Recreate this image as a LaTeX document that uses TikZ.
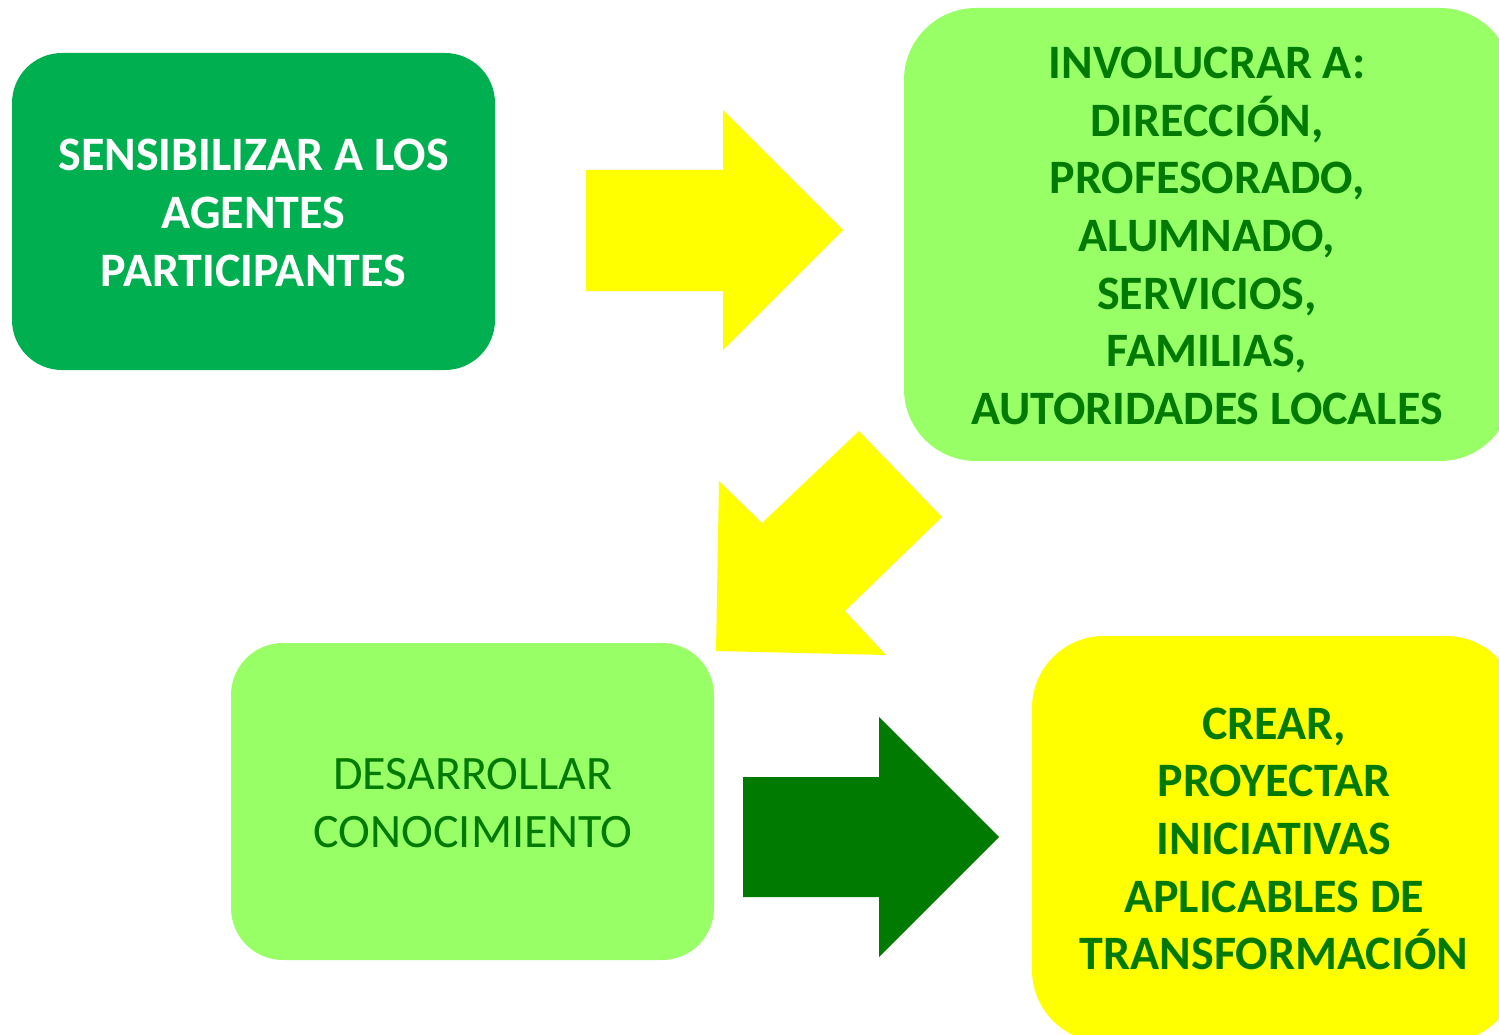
\documentclass[tikz,border=0pt]{standalone}
\usepackage{fontspec}
\setmainfont{Carlito}
\definecolor{dkgreen}{HTML}{00B050}
\definecolor{ltgreen}{HTML}{99FF66}
\definecolor{yel}{HTML}{FFFF00}
\definecolor{txtgreen}{HTML}{007A00}
\tikzset{
  lbl/.style={align=center, font=\fontsize{48}{57.7}\selectfont\bfseries, text=txtgreen},
}
\begin{document}
\begin{tikzpicture}[x=1pt,y=-1pt]
\useasboundingbox (0,0) rectangle (1499,1035);
\begin{scope}
\clip (0,0) rectangle (1499,1035);
% boxes
\fill[dkgreen, rounded corners=50] (12,53) rectangle (495,370);
\fill[ltgreen, rounded corners=72] (904,8) rectangle (1512,461);
\fill[ltgreen, rounded corners=52] (231,643) rectangle (714,960);
\fill[yel, rounded corners=72] (1032,636) rectangle (1518,1042);
% arrows
\fill[yel] (586,170) -- (723,170) -- (723,110) -- (843,230) -- (723,350) -- (723,291) -- (586,291) -- cycle;
\fill[yel] (719,481) -- (762,523) -- (859,431) -- (942,517) -- (845,611) -- (886,655) -- (716,651) -- cycle;
\fill[txtgreen] (743,777) -- (879,777) -- (879,717) -- (999,837) -- (879,957) -- (879,897) -- (743,897) -- cycle;
\end{scope}
% texts
\node[lbl, text=white] (t1) at (253.5,213) {SENSIBILIZAR A LOS\\AGENTES\\PARTICIPANTES};
\node[lbl] (t2) at (1207,236) {INVOLUCRAR A:\\DIRECCIÓN,\\PROFESORADO,\\ALUMNADO,\\SERVICIOS,\\FAMILIAS,\\AUTORIDADES LOCALES};
\node[lbl, font=\fontsize{48}{57.7}\selectfont] (t3) at (473,803) {DESARROLLAR\\CONOCIMIENTO};
\node[lbl] (t4) at (1274,839) {CREAR,\\PROYECTAR\\INICIATIVAS\\APLICABLES DE\\TRANSFORMACIÓN};
\end{tikzpicture}
\end{document}
